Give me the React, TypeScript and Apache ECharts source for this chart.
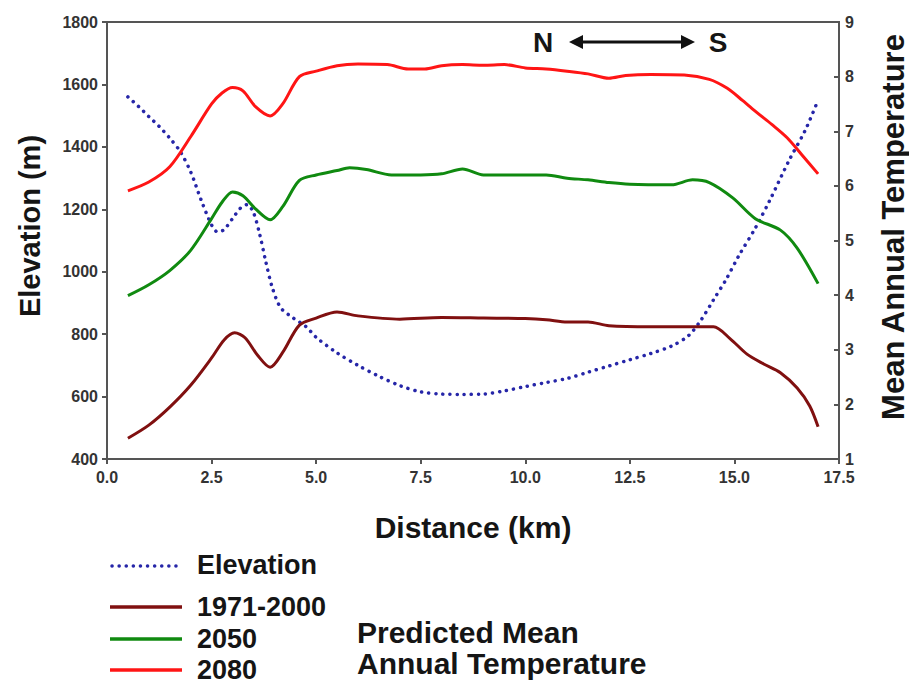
import React, { useEffect, useRef } from "react";
import * as echarts from "echarts";

const xTicks = [0, 2.5, 5, 7.5, 10, 12.5, 15, 17.5];

const elevation: [number, number][] = [
  [0.5, 1560], [0.75, 1530], [1.0, 1497], [1.25, 1465], [1.5, 1428], [1.75, 1385], [2.0, 1320],
  [2.25, 1230], [2.5, 1150], [2.65, 1127], [2.8, 1135], [3.0, 1170], [3.2, 1205], [3.35, 1215],
  [3.5, 1190], [3.65, 1120], [3.8, 1030], [3.95, 950], [4.15, 885], [4.45, 852], [4.75, 825],
  [5.0, 790], [5.5, 740], [6.0, 700], [6.5, 665], [7.0, 635], [7.5, 615], [8.0, 608],
  [8.5, 607], [9.0, 608], [9.5, 618], [10.0, 632], [10.5, 645], [11.0, 658], [11.5, 678],
  [12.0, 698], [12.5, 718], [13.0, 738], [13.5, 762], [13.9, 795], [14.2, 845], [14.5, 910],
  [14.8, 975], [15.1, 1050], [15.5, 1140], [15.85, 1230], [16.3, 1355], [16.7, 1455], [17.0, 1550],
];

const temp1971: [number, number][] = [
  [0.5, 1.38], [1.0, 1.62], [1.5, 1.95], [2.0, 2.35], [2.5, 2.85], [2.8, 3.18], [3.05, 3.31],
  [3.3, 3.22], [3.6, 2.9], [3.9, 2.68], [4.2, 2.95], [4.6, 3.45], [5.0, 3.58], [5.5, 3.69],
  [6.0, 3.62], [7.0, 3.56], [8.0, 3.59], [9.0, 3.58], [10.0, 3.57], [10.5, 3.55], [11.0, 3.51],
  [11.5, 3.51], [12.0, 3.44], [13.0, 3.42], [14.0, 3.42], [14.5, 3.42], [14.9, 3.2], [15.3, 2.92],
  [15.7, 2.74], [16.1, 2.58], [16.5, 2.3], [16.8, 1.97], [17.0, 1.59],
];

const temp2050: [number, number][] = [
  [0.5, 3.99], [1.0, 4.19], [1.5, 4.45], [2.0, 4.82], [2.5, 5.4], [2.75, 5.7], [3.0, 5.89],
  [3.25, 5.82], [3.55, 5.58], [3.9, 5.38], [4.2, 5.62], [4.6, 6.1], [5.0, 6.2], [5.5, 6.28],
  [5.8, 6.33], [6.2, 6.3], [6.8, 6.2], [7.5, 6.2], [8.0, 6.22], [8.5, 6.31], [9.0, 6.2],
  [10.0, 6.2], [10.5, 6.2], [11.0, 6.14], [11.5, 6.11], [12.0, 6.06], [12.5, 6.03], [13.5, 6.02],
  [14.0, 6.11], [14.4, 6.06], [14.96, 5.78], [15.5, 5.4], [16.1, 5.19], [16.5, 4.86], [17.0, 4.21],
];

const temp2080: [number, number][] = [
  [0.5, 5.91], [1.0, 6.07], [1.5, 6.35], [2.0, 6.9], [2.5, 7.5], [2.75, 7.7], [3.0, 7.8],
  [3.25, 7.74], [3.55, 7.45], [3.9, 7.28], [4.2, 7.5], [4.6, 8.0], [5.0, 8.1], [5.5, 8.2],
  [6.0, 8.23], [6.7, 8.22], [7.2, 8.14], [7.6, 8.14], [8.0, 8.2], [8.5, 8.22], [9.0, 8.21],
  [9.5, 8.22], [10.0, 8.16], [10.5, 8.14], [11.0, 8.1], [11.5, 8.05], [12.0, 7.97], [12.4, 8.02],
  [13.0, 8.04], [13.8, 8.03], [14.4, 7.95], [14.82, 7.79], [15.2, 7.56], [15.54, 7.34],
  [15.9, 7.12], [16.26, 6.88], [16.6, 6.58], [17.0, 6.22],
];

const legendNames = ["Elevation", "1971-2000", "2050", "2080"];
const FONT = '"Liberation Sans", Arial, Helvetica, sans-serif';
const C_ELEV = "#2626a8";
const C_1971 = "#801010";
const C_2050 = "#108a10";
const C_2080 = "#ff1515";
const AXIS = "#555555";

function txt(text: string, x: number, y: number, size: number, opts: any = {}) {
  return {
    type: "text",
    x,
    y,
    rotation: opts.rotation || 0,
    style: {
      text,
      font: `bold ${size}px ${FONT}`,
      fill: opts.fill || "#151515",
      textAlign: opts.align || "left",
      align: opts.align || "left",
      textVerticalAlign: "middle",
      verticalAlign: "middle",
    },
  };
}

export default function App() {
  const ref = useRef<HTMLDivElement>(null);
  useEffect(() => {
    document.body.style.margin = "0";
    const chart = echarts.init(ref.current!, null, { renderer: "svg" });
    const axisLabel = { fontFamily: FONT, fontWeight: "bold", fontSize: 16, color: "#333" };
    chart.setOption({
      animation: false,
      backgroundColor: "#fff",
      grid: { left: 107, right: 70, top: 22, bottom: 226, show: true, borderColor: AXIS, borderWidth: 2, backgroundColor: "transparent" },
      xAxis: {
        type: "value",
        min: 0,
        max: 17.5,
        interval: 2.5,
        splitLine: { show: false },
        axisLine: { show: true, lineStyle: { color: AXIS, width: 2 } },
        axisTick: { show: true, length: 5, lineStyle: { color: AXIS, width: 2 } },
        axisLabel: { ...axisLabel, margin: 10, formatter: (v: number) => (xTicks.includes(v) ? v.toFixed(1) : "") },
      },
      yAxis: [
        {
          type: "value",
          min: 400,
          max: 1800,
          interval: 200,
          splitLine: { show: false },
          axisLine: { show: true, lineStyle: { color: AXIS, width: 2 } },
          axisTick: { show: true, length: 5, lineStyle: { color: AXIS, width: 2 } },
          axisLabel: { ...axisLabel, margin: 9, formatter: (v: number) => String(v) },
        },
        {
          type: "value",
          position: "right",
          min: 1,
          max: 9,
          interval: 1,
          splitLine: { show: false },
          axisLine: { show: true, lineStyle: { color: AXIS, width: 2 } },
          axisTick: { show: true, inside: true, length: 5, lineStyle: { color: AXIS, width: 2 } },
          axisLabel: { ...axisLabel, margin: 6, formatter: (v: number) => String(v) },
        },
      ],
      series: [
        {
          name: legendNames[0], type: "line", yAxisIndex: 0, data: elevation, smooth: 0.3, symbol: "none",
          lineStyle: { color: C_ELEV, width: 3.5, type: [0.1, 7], cap: "round" },
        },
        {
          name: legendNames[1], type: "line", yAxisIndex: 1, data: temp1971, smooth: 0.3, symbol: "none",
          lineStyle: { color: C_1971, width: 3 },
        },
        {
          name: legendNames[2], type: "line", yAxisIndex: 1, data: temp2050, smooth: 0.3, symbol: "none",
          lineStyle: { color: C_2050, width: 3 },
        },
        {
          name: legendNames[3], type: "line", yAxisIndex: 1, data: temp2080, smooth: 0.3, symbol: "none",
          lineStyle: { color: C_2080, width: 3 },
        },
      ],
      graphic: [
        txt("Elevation (m)", 30, 226, 29, { rotation: Math.PI / 2, align: "center" }),
        txt("Mean Annual Temperature", 893, 227, 31, { rotation: Math.PI / 2, align: "center" }),
        txt("Distance (km)", 473, 527, 30, { align: "center" }),
        txt("N", 543, 42, 28, { align: "center" }),
        txt("S", 718, 42, 28, { align: "center" }),
        { type: "line", shape: { x1: 578, y1: 42, x2: 686, y2: 42 }, style: { stroke: "#111", lineWidth: 3 } },
        { type: "polygon", shape: { points: [[569, 42], [583, 35], [583, 49]] }, style: { fill: "#111" } },
        { type: "polygon", shape: { points: [[695, 42], [681, 35], [681, 49]] }, style: { fill: "#111" } },
        { type: "line", shape: { x1: 112, y1: 566, x2: 182, y2: 566 }, style: { stroke: C_ELEV, lineWidth: 3.5, lineDash: [0.1, 7], lineCap: "round" } },
        txt(legendNames[0], 197, 565, 27),
        { type: "line", shape: { x1: 110, y1: 607, x2: 182, y2: 607 }, style: { stroke: C_1971, lineWidth: 3.5 } },
        txt(legendNames[1], 197, 607, 27),
        { type: "line", shape: { x1: 110, y1: 639, x2: 182, y2: 639 }, style: { stroke: C_2050, lineWidth: 3.5 } },
        txt(legendNames[2], 197, 639, 27),
        { type: "line", shape: { x1: 110, y1: 670, x2: 182, y2: 670 }, style: { stroke: C_2080, lineWidth: 3.5 } },
        txt(legendNames[3], 197, 670, 27),
        txt("Predicted Mean", 357, 632, 30),
        txt("Annual Temperature", 357, 663, 30),
      ],
    });
    return () => chart.dispose();
  }, []);
  return <div ref={ref} style={{ position: "fixed", left: 0, top: 0, width: 909, height: 685 }} />;
}
